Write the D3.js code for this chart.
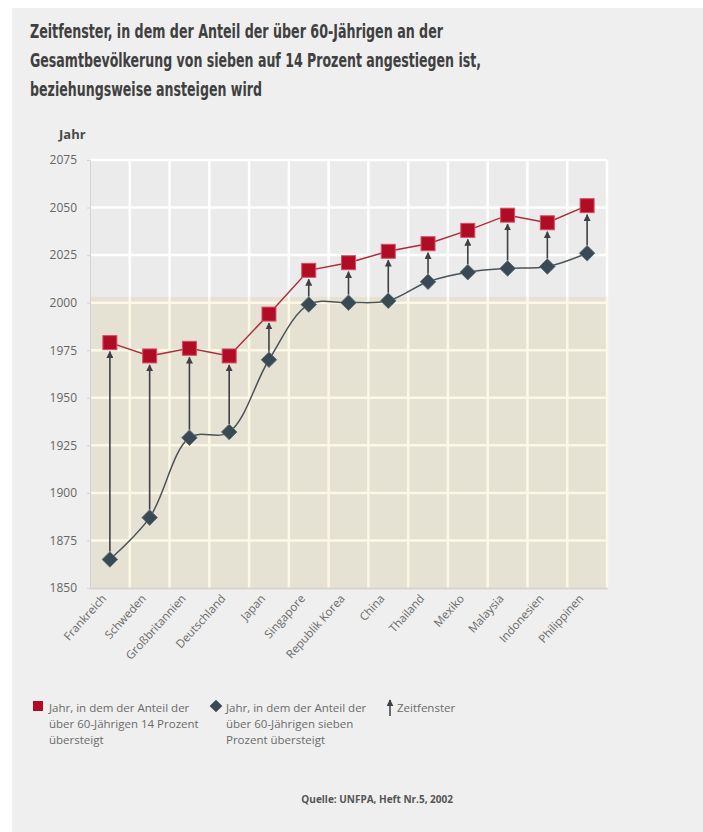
<!DOCTYPE html>
<html>
<head>
<meta charset="utf-8">
<script src="https://cdn.jsdelivr.net/npm/d3@7"></script>
<style>
  body { margin: 0; background: #ffffff; }
</style>
</head>
<body>
<div id="canvas"></div>
<script>
"use strict"

/* data */
let countries = ["Frankreich", "Schweden", "Großbritannien", "Deutschland", "Japan", "Singapore",
    "Republik Korea", "China", "Thailand", "Mexiko", "Malaysia", "Indonesien", "Philippinen"];
let year14 = [1979, 1972, 1976, 1972, 1994, 2017, 2021, 2027, 2031, 2038, 2046, 2042, 2051];
let year7 = [1865, 1887, 1929, 1932, 1970, 1999, 2000, 2001, 2011, 2016, 2018, 2019, 2026];
let yTicks = [1850, 1875, 1900, 1925, 1950, 1975, 2000, 2025, 2050, 2075];
let titleLines = ["Zeitfenster, in dem der Anteil der über 60-Jährigen an der",
    "Gesamtbevölkerung von sieben auf 14 Prozent angestiegen ist,",
    "beziehungsweise ansteigen wird"];
let legend14 = ["Jahr, in dem der Anteil der", "über 60-Jährigen 14 Prozent", "übersteigt"];
let legend7 = ["Jahr, in dem der Anteil der", "über 60-Jährigen sieben", "Prozent übersteigt"];

let red = "#b10c25";
let slate = "#394a54";
let textFont = "'Open Sans', sans-serif";

/* set up the drawing canvas */
let drawing = d3.select("#canvas")
    .append("svg")
    .attr("width", 703)
    .attr("height", 832);

/* grey card behind everything */
drawing.append("rect")
    .attr("x", 12)
    .attr("y", 8)
    .attr("width", 703 - 12)
    .attr("height", 832 - 8)
    .attr("fill", "#efefef");

/* title - the original face is narrow, so squeeze each line to its width */
let titleWidths = [413, 451, 232];

drawing.append("g")
    .selectAll("text")
    .data(titleLines)
    .join("text")
    .attr("x", 30)
    .attr("y", (d, i) => 38 + i * 29)
    .attr("font-family", "'DejaVu Sans Condensed', sans-serif")
    .attr("font-weight", "bold")
    .attr("font-size", 19)
    .attr("fill", "#404040")
    .attr("textLength", (d, i) => titleWidths[i])
    .attr("lengthAdjust", "spacingAndGlyphs")
    .text(d => d);

/* scales */
let x = d3.scaleBand()
    .domain(countries)
    .range([90, 607]);

let y = d3.scaleLinear()
    .domain([1850, 2075])
    .range([588, 160]);

let splitYear = 2003;

/* plot background: grey above today, beige below */
drawing.append("rect")
    .attr("x", x.range()[0])
    .attr("y", y(2075))
    .attr("width", x.range()[1] - x.range()[0])
    .attr("height", y(splitYear) - y(2075))
    .attr("fill", "#ebebeb");

drawing.append("rect")
    .attr("x", x.range()[0])
    .attr("y", y(splitYear))
    .attr("width", x.range()[1] - x.range()[0])
    .attr("height", y(1850) - y(splitYear))
    .attr("fill", "#e5e2d4");

/* grid */
let grid = drawing.append("g");

grid.selectAll("line.h")
    .data(yTicks.filter(d => d > 1850))
    .join("line")
    .attr("x1", x.range()[0])
    .attr("x2", x.range()[1])
    .attr("y1", d => y(d))
    .attr("y2", d => y(d))
    .attr("stroke", d => d > splitYear ? "#ffffff" : "#fcf8e6")
    .attr("stroke-width", 2.5);

let bounds = countries.slice(1).map(c => x(c));
bounds.push(x.range()[1]);

grid.selectAll("line.vt")
    .data(bounds)
    .join("line")
    .attr("x1", d => d)
    .attr("x2", d => d)
    .attr("y1", y(2075))
    .attr("y2", y(splitYear))
    .attr("stroke", "#ffffff")
    .attr("stroke-width", 2.5);

grid.append("g").selectAll("line")
    .data(bounds)
    .join("line")
    .attr("x1", d => d)
    .attr("x2", d => d)
    .attr("y1", y(splitYear))
    .attr("y2", y(1850))
    .attr("stroke", "#fcf8e6")
    .attr("stroke-width", 2.5);

/* axes */
let yAxis = drawing.append("g")
    .attr("transform", "translate(" + x.range()[0] + ",0)")
    .call(d3.axisLeft(y).tickValues(yTicks).tickFormat(d3.format("d")).tickSize(3).tickPadding(10));

yAxis.select(".domain").attr("stroke", "#d2d2d2");
yAxis.selectAll(".tick line").attr("stroke", "#d2d2d2");
yAxis.selectAll("text")
    .attr("font-family", textFont)
    .attr("font-size", 12)
    .attr("fill", "#666666");

let xAxis = drawing.append("g")
    .attr("transform", "translate(0," + y(1850) + ")")
    .call(d3.axisBottom(x).tickSize(0).tickPadding(0));

xAxis.select(".domain").attr("stroke", "#d6d6cc").attr("stroke-width", 2);
xAxis.selectAll("text")
    .attr("font-family", textFont)
    .attr("font-size", 11.5)
    .attr("fill", "#6a6a6a")
    .attr("text-anchor", "end")
    .attr("dy", 0)
    .attr("transform", "translate(-3,11) rotate(-48)");

drawing.append("text")
    .attr("x", 59)
    .attr("y", 139)
    .attr("font-family", textFont)
    .attr("font-weight", "bold")
    .attr("font-size", 13)
    .attr("fill", "#4a4a4a")
    .text("Jahr");

/* arrowhead */
drawing.append("defs")
    .append("marker")
    .attr("id", "head")
    .attr("viewBox", "0 0 10 10")
    .attr("refX", 9)
    .attr("refY", 5)
    .attr("markerWidth", 7)
    .attr("markerHeight", 7)
    .attr("markerUnits", "userSpaceOnUse")
    .attr("orient", "auto")
    .append("path")
    .attr("d", "M0,0 L10,5 L0,10 Z")
    .attr("fill", "#3d4144");

let cx = c => x(c) + x.bandwidth() / 2;

/* lines */
let line7 = d3.line()
    .x((d, i) => cx(countries[i]))
    .y(d => y(d))
    .curve(d3.curveCatmullRom.alpha(0.5));

let line14 = d3.line()
    .x((d, i) => cx(countries[i]))
    .y(d => y(d));

drawing.append("path")
    .datum(year7)
    .attr("d", line7)
    .attr("fill", "none")
    .attr("stroke", "#4a5358")
    .attr("stroke-width", 1.5);

drawing.append("path")
    .datum(year14)
    .attr("d", line14)
    .attr("fill", "none")
    .attr("stroke", "#b02a3a")
    .attr("stroke-width", 1.5);

/* time window arrows */
drawing.append("g")
    .selectAll("line")
    .data(countries)
    .join("line")
    .attr("x1", d => cx(d))
    .attr("x2", d => cx(d))
    .attr("y1", (d, i) => y(year7[i]) - 8)
    .attr("y2", (d, i) => y(year14[i]) + 9)
    .attr("stroke", "#3d4144")
    .attr("stroke-width", 1.6)
    .attr("marker-end", "url(#head)");

/* markers */
drawing.append("g")
    .selectAll("rect")
    .data(countries)
    .join("rect")
    .attr("x", d => cx(d) - 7)
    .attr("y", (d, i) => y(year14[i]) - 7)
    .attr("width", 14)
    .attr("height", 14)
    .attr("fill", red)
    .attr("stroke", "#d65064")
    .attr("stroke-width", 1);

drawing.append("g")
    .selectAll("rect")
    .data(countries)
    .join("rect")
    .attr("x", -5.5)
    .attr("y", -5.5)
    .attr("width", 11)
    .attr("height", 11)
    .attr("transform", (d, i) => "translate(" + cx(d) + "," + y(year7[i]) + ") rotate(45)")
    .attr("fill", slate)
    .attr("stroke", "#5c6d77")
    .attr("stroke-width", 0.8);

/* legend */
let legend = drawing.append("g")
    .attr("font-family", textFont)
    .attr("font-size", 11.5)
    .attr("fill", "#6a6a6a");

legend.append("rect")
    .attr("x", 33)
    .attr("y", 701)
    .attr("width", 10)
    .attr("height", 10)
    .attr("fill", red);

legend.append("g")
    .selectAll("text")
    .data(legend14)
    .join("text")
    .attr("x", 49)
    .attr("y", (d, i) => 712 + i * 16)
    .text(d => d);

legend.append("rect")
    .attr("x", -4.5)
    .attr("y", -4.5)
    .attr("width", 9)
    .attr("height", 9)
    .attr("transform", "translate(216,706) rotate(45)")
    .attr("fill", slate);

legend.append("g")
    .selectAll("text")
    .data(legend7)
    .join("text")
    .attr("x", 226)
    .attr("y", (d, i) => 712 + i * 16)
    .text(d => d);

legend.append("line")
    .attr("x1", 390)
    .attr("x2", 390)
    .attr("y1", 716)
    .attr("y2", 700)
    .attr("stroke", "#3d4144")
    .attr("stroke-width", 1.5)
    .attr("marker-end", "url(#head)");

legend.append("text")
    .attr("x", 397)
    .attr("y", 712)
    .text("Zeitfenster");

/* source */
drawing.append("text")
    .attr("x", 453)
    .attr("y", 803)
    .attr("text-anchor", "end")
    .attr("font-family", textFont)
    .attr("font-weight", "bold")
    .attr("font-size", 10)
    .attr("fill", "#555555")
    .text("Quelle: UNFPA, Heft Nr.5, 2002");
</script>
</body>
</html>
